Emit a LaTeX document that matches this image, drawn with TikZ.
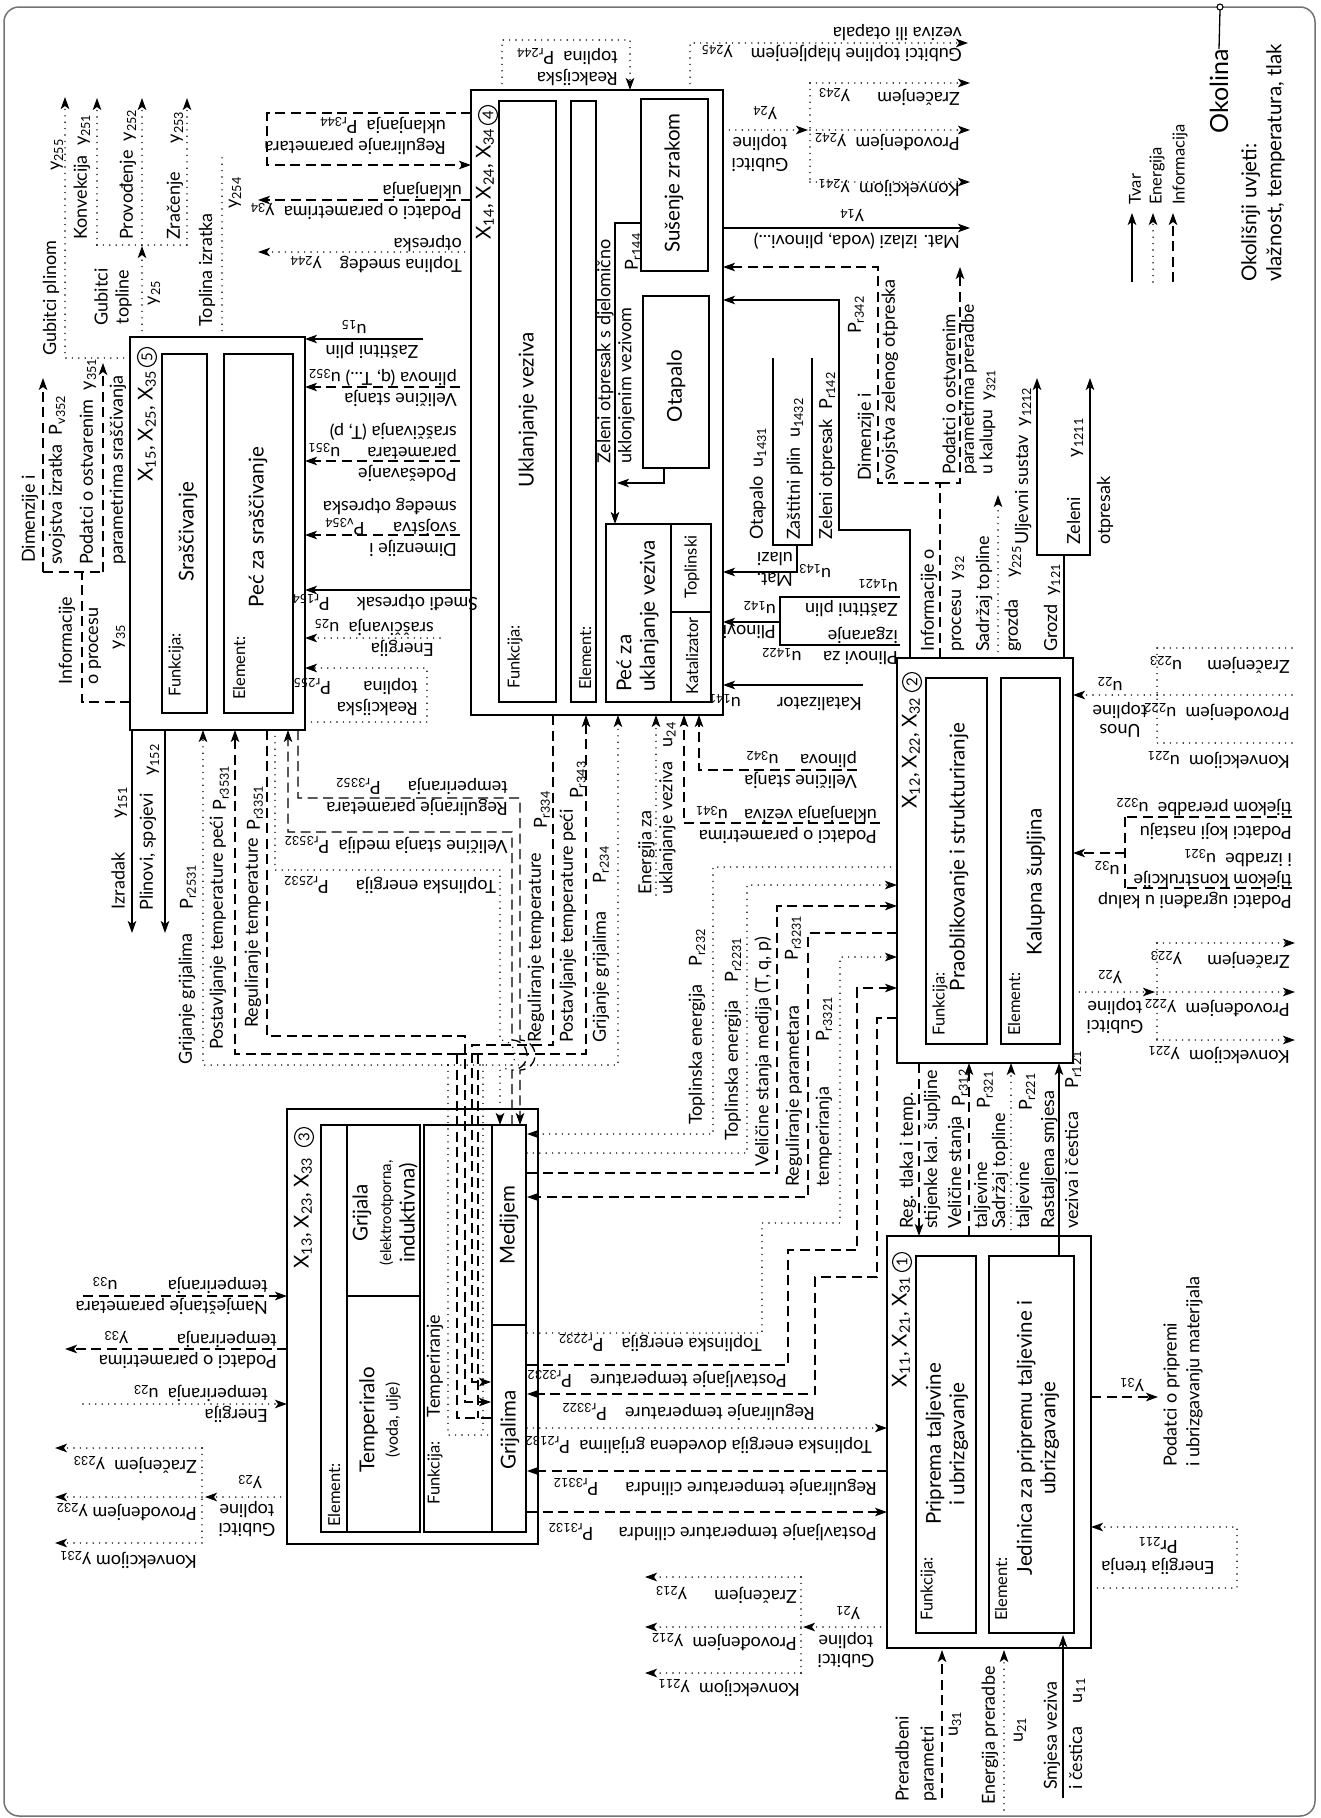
\documentclass[tikz,border=0pt]{standalone}
\usepackage{fontspec}
\setmainfont{Lato}
\usetikzlibrary{arrows.meta}

\newcommand{\sbs}[1]{\textsubscript{#1}}

\tikzset{
  okvir/.style={draw, line width=1.8pt, inner sep=0pt},
  unutar/.style={draw, line width=1.5pt, inner sep=0pt},
  tvar/.style={line width=1.4pt},
  energ/.style={line width=1.6pt, line cap=round, dash pattern=on 0pt off 6.4pt},
  info/.style={line width=1.3pt, dash pattern=on 10pt off 5.5pt},
  str/.style={-{Stealth[length=12pt, width=8.5pt, inset=3pt]}},
  lbl/.style={rotate=90, inner sep=0pt, font=\fontsize{18}{21}\selectfont},
  lblo/.style={rotate=180, inner sep=0pt, font=\fontsize{18}{21}\selectfont},
  txt/.style={rotate=90, inner sep=0pt, font=\fontsize{20.5}{23.5}\selectfont},
  mali/.style={rotate=90, inner sep=0pt, font=\fontsize{16.5}{19}\selectfont},
  krug/.style={draw, circle, line width=1.1pt, inner sep=0pt, minimum size=19pt,
    rotate=90, font=\fontsize{15}{15}\selectfont}
}

\begin{document}
\begin{tikzpicture}[x=1pt, y=-1pt]
  \useasboundingbox (0,0) rectangle (1321,1818);
  \draw[black!55, line width=1.5pt, rounded corners=15pt] (4,7) rectangle (1315,1816);

  % okolina i legenda
  \node[rotate=90, inner sep=0pt, font=\fontsize{25}{28}\selectfont, anchor=east] (okolina) at (1219,49) {Okolina};
  \draw[line width=1.3pt] (okolina.east) -- (1220,10);
  \draw[line width=1.1pt, fill=white] (1220,7) circle (3pt);
  \node[rotate=90, inner sep=0pt, font=\fontsize{20.5}{25}\selectfont, align=left, anchor=west] (uvjeti) at (1263,282) {Okolišnji uvjeti:\\vlažnost, temperatura, tlak};
  \draw[tvar, str] (1132,282) -- (1132,213);
  \draw[energ, str] (1153,282) -- (1153,213);
  \draw[info, str] (1173,282) -- (1173,213);
  \node[mali, anchor=west] (L-t) at (1135,205) {Tvar};
  \node[mali, anchor=west] (L-e) at (1157,205) {Energija};
  \node[mali, anchor=west] (L-i) at (1180,205) {Informacija};

  % 1
  \node[okvir, minimum width=204pt, minimum height=412pt] (B-1) at (989,1442) {};
  \node[unutar, minimum width=60pt, minimum height=377pt] (B-1f) at (946,1444.5) {};
  \node[unutar, minimum width=85pt, minimum height=377pt] (B-1e) at (1031.5,1444.5) {};
  \node[txt, anchor=east] (X-1) at (901,1276) {X\sbs{11}, X\sbs{21}, X\sbs{31}};
  \node[krug] (K-1) at (902,1262) {1};
  \node[mali] (F-1) at (928,1589) {Funkcija:};
  \node[txt, align=center] (T-1f) at (947,1444) {Priprema taljevine\\i ubrizgavanje};
  \node[mali] (E-1) at (1001,1589) {Element:};
  \node[txt, align=center] (T-1e) at (1038,1438) {Jedinica za pripremu taljevine i\\ubrizgavanje};

  % 2
  \node[okvir, minimum width=176pt, minimum height=405pt] (B-2) at (985,860.5) {};
  \node[unutar, minimum width=61pt, minimum height=366pt] (B-2f) at (956.5,861) {};
  \node[unutar, minimum width=59pt, minimum height=366pt] (B-2e) at (1030.5,861) {};
  \node[txt, anchor=east] (X-2) at (911,697) {X\sbs{12}, X\sbs{22}, X\sbs{32}};
  \node[krug] (K-2) at (912,682) {2};
  \node[mali] (F-2) at (940,1004) {Funkcija:};
  \node[txt] (T-2f) at (959,857) {Praoblikovanje i strukturiranje};
  \node[mali] (E-2) at (1014,1004) {Element:};
  \node[txt] (T-2e) at (1036,882) {Kalupna šupljina};

  % 3
  \node[okvir, minimum width=251pt, minimum height=435pt] (B-3) at (412.5,1326.5) {};
  \node[unutar, minimum width=99pt, minimum height=407pt] (B-3e) at (370.5,1328.5) {};
  \draw[line width=1.5pt] (347,1125) -- (347,1532);
  \draw[line width=1.5pt] (347,1296) -- (420,1296);
  \node[unutar, minimum width=102pt, minimum height=407pt] (B-3f) at (475,1328.5) {};
  \draw[line width=1.5pt] (492,1125) -- (492,1532);
  \draw[line width=1.5pt] (492,1325) -- (526,1325);
  \node[txt, anchor=east] (X-3) at (303,1157) {X\sbs{13}, X\sbs{23}, X\sbs{33}};
  \node[krug] (K-3) at (304,1137) {3};
  \node[mali] (E-3) at (334,1495) {Element:};
  \node[txt, align=center] (T-3g) at (385,1213) {Grijala\\\fontsize{15}{22}\selectfont(elektrootporna,\\induktivna)};
  \node[txt, align=center] (T-3t) at (380,1420) {Temperiralo\\\fontsize{16}{24}\selectfont(voda, ulje)};
  \node[mali] (F-3) at (435,1473) {Funkcija:};
  \node[lbl] (T-3f) at (435,1366) {Temperiranje};
  \node[txt] (T-3m) at (509,1225) {Medijem};
  \node[txt] (T-3gr) at (510,1430) {Grijalima};

  % 4
  \node[okvir, minimum width=252pt, minimum height=625pt] (B-4) at (597,402.5) {};
  \node[unutar, minimum width=57pt, minimum height=601pt] (B-4f) at (527.5,401.5) {};
  \node[unutar, minimum width=25pt, minimum height=601pt] (B-4e) at (583.5,401.5) {};
  \node[unutar, minimum width=105pt, minimum height=178pt] (B-4p) at (658.5,613) {};
  \draw[line width=1.5pt] (671,524) -- (671,702);
  \draw[line width=1.5pt] (671,612) -- (711,612);
  \node[unutar, minimum width=67pt, minimum height=172pt] (B-4s) at (674.5,185) {};
  \node[unutar, minimum width=66pt, minimum height=172pt] (B-4o) at (676,382) {};
  \node[txt, anchor=east] (X-4) at (485,128) {X\sbs{14}, X\sbs{24}, X\sbs{34}};
  \node[krug] (K-4) at (488,115) {4};
  \node[txt] (T-4f) at (528,410) {Uklanjanje veziva};
  \node[mali] (F-4) at (515,657) {Funkcija:};
  \node[mali] (E-4) at (585,658) {Element:};
  \node[txt, align=left, anchor=west] (T-4p) at (637.5,692) {Peć za\\uklanjanje veziva};
  \node[mali] (T-4t) at (692,567) {Toplinski};
  \node[mali] (T-4k) at (692,656) {Katalizator};
  \node[txt] (T-4s) at (674,183) {Sušenje zrakom};
  \node[txt] (T-4o) at (676,386) {Otapalo};
  \node[lbl, align=left, anchor=west] (T-4z) at (616,464) {Zeleni otpresak s djelomično\\uklonjenim vezivom};
  \node[lbl] (P-r144) at (633,252) {P\sbs{r144}};
  \draw[tvar, str] (641,223) -- (615,223) -- (615,524);
  \draw[tvar, str] (664,468) -- (664,483) -- (617,483);

  % 5
  \node[okvir, minimum width=175pt, minimum height=393pt] (B-5) at (217.5,533.5) {};
  \node[unutar, minimum width=45pt, minimum height=359pt] (B-5f) at (184.5,533.5) {};
  \node[unutar, minimum width=69pt, minimum height=359pt] (B-5e) at (258.5,533.5) {};
  \node[txt, anchor=east] (X-5) at (147,370) {X\sbs{15}, X\sbs{25}, X\sbs{35}};
  \node[krug] (K-5) at (147,357) {5};
  \node[mali] (F-5) at (176,665) {Funkcija:};
  \node[txt] (T-5f) at (188,532) {Sraščivanje};
  \node[mali] (E-5) at (239,668) {Element:};
  \node[txt] (T-5e) at (258,527) {Peć za sraščivanje};

  % gubitci iz 5
  \draw[energ, str] (130,358) -- (65,358) -- (65,97);
  \node[lbl] (L-gp) at (51,298) {Gubitci plinom};
  \node[lbl] (L-y255) at (57,155) {y\sbs{255}};
  \draw[energ, str] (142,337) -- (142,246);
  \draw[energ] (97,245) -- (187,245);
  \draw[energ, str] (97,245) -- (97,98);
  \draw[energ, str] (142,245) -- (142,98);
  \draw[energ, str] (187,245) -- (187,98);
  \node[lbl, align=center] (L-gt5) at (113,297) {Gubitci\\topline};
  \node[lbl] (L-y25) at (154,293) {y\sbs{25}};
  \node[lbl, anchor=west] (L-k251) at (82,240) {Konvekcija\ \ y\sbs{251}};
  \node[lbl, anchor=west] (L-p252) at (128,240) {Provođenje\ \ y\sbs{252}};
  \node[lbl, anchor=west] (L-z253) at (175,240) {Zračenje\hspace{1.6em}y\sbs{253}};
  \draw[energ] (222,337) -- (222,153);
  \node[lbl] (L-ti) at (207,270) {Toplina izratka};
  \node[lbl] (L-y254) at (235,193) {y\sbs{254}};

  % informacije iz 5
  \draw[info] (130,702) -- (82,702) -- (82,572);
  \draw[info] (43,572) -- (103,572);
  \draw[info, str] (43,572) -- (43,378);
  \draw[info, str] (103,572) -- (103,363);
  \node[lbl, anchor=west] (L-inf5) at (67,685) {Informacije};
  \node[lbl, anchor=west] (L-op5) at (95,685) {o procesu};
  \node[lbl] (L-y35) at (119,637) {y\sbs{35}};
  \node[lbl, anchor=west] (L-dim5) at (30,563) {Dimenzije i};
  \node[lbl, anchor=west] (L-svi) at (57,565) {svojstva izratka\ \ P\sbs{v352}};
  \node[lbl, anchor=west] (L-po5) at (88,565) {Podatci o ostvarenim\ \ y\sbs{351}};
  \node[lbl, anchor=west] (L-ps5) at (118,565) {parametrima sraščivanja};

  % izmedju 5 i 4
  \draw[info, str] (471,113) -- (267,113) -- (267,165) -- (471,165);
  \node[lblo, align=left, anchor=west] (L-r344) at (446,136) {Reguliranje parametara\\uklanjanja\ \ P\sbs{r344}};
  \draw[info, str] (471,200) -- (258,200);
  \node[lblo, align=left, anchor=west] (L-y34) at (462,201) {Podatci o parametrima\ \ y\sbs{34}\\uklanjanja};
  \draw[energ, str] (471,252) -- (258,252);
  \node[lblo, align=left, anchor=west] (L-y244) at (462,254) {Toplina smeđeg\quad y\sbs{244}\\otpreska};
  \draw[tvar, str] (423,339) -- (305,339);
  \node[lblo] (L-zp15) at (372,351) {Zaštitni plin};
  \node[lblo] (L-u15) at (354,327) {u\sbs{15}};
  \draw[info, str] (460,387) -- (305,387);
  \node[lblo, align=left, anchor=west] (L-u352) at (457,388) {Veličine stanja\\plinova (q, T...)\ u\sbs{352}};
  \draw[info, str] (460,461) -- (305,461);
  \node[lblo, align=left, anchor=west] (L-u351) at (457,452) {Podešavanje\\parametara\hspace{1.5em}u\sbs{351}\\sraščivanja (T, p)};
  \draw[info, str] (460,535) -- (305,535);
  \node[lblo, align=left, anchor=west] (L-v354) at (457,527) {Dimenzije i\\svojstva\hspace{1.6em}P\sbs{v354}\\smeđeg otpreska};
  \draw[tvar, str] (471,590) -- (305,590);
  \node[lblo] (L-r154) at (385,603) {Smeđi otpresak\hspace{1.5em}P\sbs{r154}};
  \draw[energ, str] (440,638) -- (305,638);
  \node[lblo, align=left, anchor=west] (L-u25) at (434,638) {Energija\\sraščivanja\ \ u\sbs{25}};
  \draw[energ, str] (305,722) -- (427,722) -- (427,668) -- (305,668);
  \node[lblo, align=left, anchor=west] (L-r255) at (418,697) {Reakcijska\\toplina\hspace{1.8em}P\sbs{r255}};

  % izlazi 5 prema dolje
  \draw[tvar, str] (132,730) -- (132,933);
  \node[lbl] (L-izr) at (118,881) {Izradak};
  \node[lbl] (L-y151) at (121,803) {y\sbs{151}};
  \draw[tvar, str] (165,730) -- (165,933);
  \node[lbl] (L-pls) at (148,852) {Plinovi, spojevi};
  \node[lbl] (L-y152) at (153,760) {y\sbs{152}};

  % grijanje, postavljanje, reguliranje (3 - 4 - 5)
  \draw[energ, str] (448,1065) -- (203,1065) -- (203,730);
  \draw[energ, str] (448,1065) -- (618,1065) -- (618,715);
  \draw[energ] (448,1065) -- (448,1435) -- (491,1435);
  \draw[energ] (483,1065) -- (483,1435);
  \node[lbl, anchor=west] (L-gg5) at (187,1065) {Grijanje grijalima};
  \node[lbl] (L-r2531) at (188,887) {P\sbs{r2531}};
  \node[lbl, anchor=west] (L-gg4) at (601,1043) {Grijanje grijalima};
  \node[lbl] (L-r234) at (601,865) {P\sbs{r234}};
  \draw[info, str] (457,1054) -- (235,1054) -- (235,730);
  \draw[info, str] (457,1054) -- (586,1054) -- (586,715);
  \draw[info] (457,1054) -- (457,1418) -- (491,1418);
  \draw[info] (478,1054) -- (478,1418);
  \node[lbl, anchor=west] (L-pt5) at (218,1050) {Postavljanje temperature peći};
  \node[lbl] (L-r3531) at (221,788) {P\sbs{r3531}};
  \node[lbl, anchor=west] (L-pt4) at (568,1043) {Postavljanje temperature peći};
  \node[lbl] (L-r343) at (578,780) {P\sbs{r343}};
  \draw[info, str] (267,730) -- (267,1036) -- (465,1036) -- (465,1402) -- (491,1402);
  \node[lbl, anchor=west] (L-rt5) at (253,1028) {Reguliranje temperature};
  \node[lbl] (L-r3351) at (255,808) {P\sbs{r3351}};
  \draw[info, str] (553,715) -- (553,1045) -- (472,1045) -- (472,1382) -- (491,1382);
  \node[lbl, anchor=west] (L-rt4) at (536,1043) {Reguliranje temperature};
  \node[lbl] (L-r334) at (542,810) {P\sbs{r334}};

  % 5 - medijem (s preskocima)
  \draw[info, str] (298,730) -- (298,798) -- (520,798) -- (520,1040)
    arc[start angle=-90, end angle=90, radius=15] -- (520,1125);
  \node[lblo, align=left, anchor=west] (L-r3352) at (508,797) {Reguliranje parametara\\temperiranja\hspace{1.5em}P\sbs{r3352}};
  \draw[info, str] (512,1125) -- (512,1070)
    arc[start angle=90, end angle=-90, radius=15] -- (512,832) -- (288,832) -- (288,730);
  \node[lblo] (L-r3532) at (396,845) {Veličine stanja medija\ \ P\sbs{r3532}};
  \draw[energ, str] (275,730) -- (275,870) -- (500,870) -- (500,1040)
    arc[start angle=-90, end angle=90, radius=15] -- (500,1125);
  \node[lblo] (L-r2532) at (390,885) {Toplinska energija\hspace{1.5em}P\sbs{r2532}};

  % ulazi u 4 odozdo
  \draw[energ, str] (656,895) -- (656,715);
  \node[lbl, align=left, anchor=west] (L-u24) at (657,895) {Energija za\\uklanjanje veziva\hspace{0.8em}u\sbs{24}};
  \draw[info, str] (880,823) -- (684,823) -- (684,715);
  \node[lblo, align=left, anchor=west] (L-u341) at (877,825) {Podatci o parametrima\\uklanjanja veziva\hspace{0.9em}u\sbs{341}};
  \draw[info, str] (857,770) -- (699,770) -- (699,715);
  \node[lblo, align=left, anchor=west] (L-u342) at (857,770) {Veličine stanja\\plinova\hspace{1.2em}u\sbs{342}};

  % 4 gore
  \draw[energ, str] (502,90) -- (502,40) -- (630,40) -- (630,90);
  \node[lblo, align=left, anchor=west] (L-r244) at (618,67) {Reakcijska\\toplina\ \ P\sbs{r244}};
  \draw[energ, str] (690,90) -- (690,43) -- (968,43);
  \node[lblo, align=left, anchor=west] (L-y245) at (962,43) {Gubitci topline hlapljenjem\hspace{1em}y\sbs{245}\\veziva ili otapala};

  % 4 desno
  \draw[energ, str] (723,130) -- (808,130);
  \draw[energ] (810,83) -- (810,182);
  \draw[energ, str] (810,83) -- (970,83);
  \draw[energ, str] (810,130) -- (970,130);
  \draw[energ, str] (810,182) -- (970,182);
  \node[lblo, align=center] (L-gt4) at (760,153) {Gubitci\\topline};
  \node[lblo] (L-y24) at (765,113) {y\sbs{24}};
  \node[lblo, anchor=west] (L-y243) at (960,97) {Zračenjem\hspace{1.5em}y\sbs{243}};
  \node[lblo, anchor=west] (L-y242) at (960,142) {Provođenjem\ \ y\sbs{242}};
  \node[lblo, anchor=west] (L-y241) at (960,188) {Konvekcijom\ \ y\sbs{241}};
  \draw[tvar, str] (723,228) -- (970,228);
  \node[lblo, anchor=west] (L-mi) at (960,241) {Mat. izlazi (voda, plinovi...)};
  \node[lblo] (L-y14) at (852,216) {y\sbs{14}};
  \draw[info, str] (940,658) -- (940,483) -- (878,483) -- (878,267) -- (723,267);
  \draw[info, str] (940,483) -- (960,483) -- (960,267);
  \node[lbl, anchor=west] (L-dz) at (866,481) {Dimenzije i};
  \node[lbl, anchor=west] (L-sz) at (890,481) {svojstva zelenog otpreska};
  \node[lbl] (L-r342) at (856,315) {P\sbs{r342}};
  \draw[tvar, str] (910,658) -- (910,530) -- (839,530) -- (839,300) -- (723,300);
  \node[lbl, anchor=west] (L-r142) at (827,540) {Zeleni otpresak\ \ P\sbs{r142}};
  \draw[tvar] (773,358) -- (773,545) -- (812,545) -- (812,358);
  \draw[tvar, str] (797,545) -- (797,572) -- (723,572);
  \node[lbl, anchor=west] (L-u1431) at (758,540) {Otapalo\ \ u\sbs{1431}};
  \node[lbl, anchor=west] (L-u1432) at (795,540) {Zaštitni plin\ \ u\sbs{1432}};
  \node[lblo, align=left, anchor=west] (L-mu) at (793,569) {Mat.\\ulazi};
  \node[lblo] (L-u143) at (815,571) {u\sbs{143}};
  \draw[tvar] (900,597) -- (780,597) -- (780,645) -- (900,645);
  \draw[tvar, str] (780,622) -- (723,622);
  \node[lblo, align=left, anchor=west] (L-u1421) at (898,598) {Zaštitni plin\\u\sbs{1421}};
  \node[lblo, align=left, anchor=west] (L-u1422) at (898,646) {Plinovi za\hspace{1.2em}u\sbs{1422}\\izgaranje};
  \node[lblo, align=left, anchor=west] (L-u142) at (776,620) {Plinovi\\u\sbs{142}};
  \draw[tvar, str] (863,685) -- (723,685);
  \node[lblo, anchor=west] (L-u141) at (862,703) {Katalizator\hspace{2em}u\sbs{141}};

  % 2 gore
  \node[lbl, anchor=west] (L-inf2) at (929,652) {Informacije o};
  \node[lbl, anchor=west] (L-pr2) at (958,652) {procesu\ \ y\sbs{32}};
  \node[lbl, align=left, anchor=west, font=\fontsize{17.5}{18.5}\selectfont] (L-po2) at (969,475) {Podatci o ostvarenim\\parametrima preradbe\\u kalupu\ \ y\sbs{321}};
  \draw[energ, str] (998,658) -- (998,495);
  \node[lbl, anchor=west] (L-st2) at (984,652) {Sadržaj topline};
  \node[lbl, anchor=west] (L-y225) at (1013,652) {grozda\hspace{1.2em}y\sbs{225}};
  \draw[tvar] (1064,658) -- (1064,555);
  \draw[tvar, str] (1064,555) -- (1037,555) -- (1037,378);
  \draw[tvar, str] (1064,555) -- (1090,555) -- (1090,378);
  \node[lbl, anchor=west] (L-y121) at (1052,652) {Grozd\ \ y\sbs{121}};
  \node[lbl, anchor=west] (L-y1212) at (1023,545) {Uljevni sustav\ \ y\sbs{1212}};
  \node[lbl, anchor=west] (L-zel) at (1075,545) {Zeleni\hspace{2.2em}y\sbs{1211}};
  \node[lbl, anchor=west] (L-otp) at (1105,545) {otpresak};

  % 2 desno
  \draw[energ, str] (1157,695) -- (1073,695);
  \draw[energ] (1157,648) -- (1157,743);
  \draw[energ] (1292,648) -- (1157,648);
  \draw[energ] (1292,695) -- (1157,695);
  \draw[energ] (1292,743) -- (1157,743);
  \node[lblo, anchor=west] (L-u223) at (1290,665) {Zračenjem\hspace{1.4em}u\sbs{223}};
  \node[lblo, anchor=west] (L-u222) at (1290,712) {Provođenjem\ \ u\sbs{222}};
  \node[lblo, anchor=west] (L-u221) at (1290,760) {Konvekcijom\ \ u\sbs{221}};
  \node[lblo, align=center, font=\fontsize{18}{19}\selectfont] (L-ut) at (1120,720) {Unos\\topline};
  \node[lblo] (L-u22) at (1110,684) {u\sbs{22}};
  \draw[info, str] (1125,853) -- (1073,853);
  \draw[info] (1125,817) -- (1125,888);
  \draw[info] (1292,817) -- (1125,817);
  \draw[info] (1292,888) -- (1125,888);
  \node[lblo, align=left, anchor=west, font=\fontsize{18}{24}\selectfont] (L-u322) at (1292,819) {Podatci koji nastaju\\tijekom preradbe\ \ u\sbs{322}};
  \node[lblo, align=left, anchor=west] (L-u321) at (1292,879) {Podatci ugrađeni u kalup\\tijekom konstrukcije\\i izradbe\ \ u\sbs{321}};
  \node[lblo] (L-u32) at (1107,868) {u\sbs{32}};
  \draw[energ, str] (1073,992) -- (1155,992);
  \draw[energ] (1157,943) -- (1157,1040);
  \draw[energ, str] (1157,943) -- (1295,943);
  \draw[energ, str] (1157,992) -- (1295,992);
  \draw[energ, str] (1157,1040) -- (1295,1040);
  \node[lblo, anchor=west] (L-y223) at (1290,960) {Zračenjem\hspace{1.4em}y\sbs{223}};
  \node[lblo, anchor=west] (L-y222) at (1290,1008) {Provođenjem\ \ y\sbs{222}};
  \node[lblo, anchor=west] (L-y221) at (1290,1055) {Konvekcijom\ \ y\sbs{221}};
  \node[lblo, align=center, font=\fontsize{18}{19}\selectfont] (L-gt2) at (1115,1016) {Gubitci\\topline};
  \node[lblo] (L-y22) at (1110,977) {y\sbs{22}};

  % 2 - 1
  \draw[info, str] (919,1063) -- (919,1236);
  \node[lbl, anchor=west] (L-rt) at (908,1229) {Reg. tlaka i temp.};
  \node[lbl, anchor=west] (L-sk) at (932,1229) {stijenke kal. šupljine};
  \node[lbl] (L-r312) at (960,1088) {P\sbs{r312}};
  \draw[info, str] (969,1236) -- (969,1063);
  \node[lbl, anchor=west] (L-vst) at (956,1229) {Veličine stanja};
  \node[lbl, anchor=west] (L-tlj1) at (982,1229) {taljevine};
  \node[lbl] (L-r321) at (985,1090) {P\sbs{r321}};
  \draw[energ, str] (1011,1236) -- (1011,1063);
  \node[lbl, anchor=west] (L-sdt) at (1000,1229) {Sadržaj topline};
  \node[lbl, anchor=west] (L-tlj2) at (1024,1229) {taljevine};
  \node[lbl] (L-r221) at (1027,1092) {P\sbs{r221}};
  \draw[tvar, str] (1059,1256) -- (1059,1063);
  \node[lbl, anchor=west] (L-rs) at (1049,1229) {Rastaljena smjesa};
  \node[lbl, anchor=west] (L-vc) at (1073,1229) {veziva i čestica\hspace{1.3em}P\sbs{r121}};

  % 1 ulazi i izlazi
  \draw[info, str] (942,1798) -- (942,1650);
  \node[lbl, align=left, anchor=west, font=\fontsize{18}{25}\selectfont] (L-prp) at (916,1802) {Preradbeni\\parametri};
  \node[lbl] (L-u31) at (955,1724) {u\sbs{31}};
  \draw[energ, str] (1004,1810) -- (1004,1650);
  \node[lbl, anchor=west] (L-ep) at (990,1805) {Energija preradbe};
  \node[lbl] (L-u21) at (1020,1730) {u\sbs{21}};
  \draw[tvar, str] (1063,1798) -- (1063,1635);
  \node[lbl, anchor=west] (L-sv) at (1052,1790) {Smjesa veziva};
  \node[lbl, anchor=west] (L-ic) at (1077,1790) {i čestica\hspace{1.3em}u\sbs{11}};
  \draw[info, str] (1091,1397) -- (1158,1397);
  \node[lblo] (L-y31) at (1132,1385) {y\sbs{31}};
  \node[lbl, align=left, anchor=west, font=\fontsize{18}{23}\selectfont] (L-pp) at (1183,1467) {Podatci o pripremi\\i ubrizgavanju materijala};
  \draw[energ, str] (1091,1588) -- (1237,1588) -- (1237,1527) -- (1091,1527);
  \node[lblo, align=center] (L-tr) at (1158,1556) {Energija trenja\\Pr\sbs{211}};
  \draw[energ, str] (887,1627) -- (803,1627);
  \draw[energ] (801,1577) -- (801,1673);
  \draw[energ, str] (801,1577) -- (645,1577);
  \draw[energ, str] (801,1627) -- (645,1627);
  \draw[energ, str] (801,1673) -- (645,1673);
  \node[lblo, anchor=west] (L-y213) at (797,1595) {Zračenjem\hspace{1.5em}y\sbs{213}};
  \node[lblo, anchor=west] (L-y212) at (797,1642) {Provođenjem\ \ y\sbs{212}};
  \node[lblo, anchor=west] (L-y211) at (800,1688) {Konvekcijom\ \ y\sbs{211}};
  \node[lblo, align=center, font=\fontsize{18}{19}\selectfont] (L-gt1) at (846,1650) {Gubitci\\topline};
  \node[lblo] (L-y21) at (848,1613) {y\sbs{21}};

  % 3 - 1
  \draw[energ, str] (527,1428) -- (887,1428);
  \node[lblo, anchor=west] (L-r2132) at (872,1445) {Toplinska energija dovedena grijalima\ \ P\sbs{r2132}};
  \draw[info, str] (887,1471) -- (527,1471);
  \node[lblo, anchor=west] (L-r3312) at (877,1487) {Reguliranje temperature cilindra\hspace{1.5em}P\sbs{r3312}};
  \draw[info, str] (527,1512) -- (887,1512);
  \node[lblo, anchor=west] (L-r3132) at (877,1532) {Postavljanje temperature cilindra\hspace{1.4em}P\sbs{r3132}};

  % 2 - 3
  \draw[energ, str] (897,867) -- (713,867) -- (713,1134) -- (527,1134);
  \draw[energ, str] (527,1153) -- (747,1153) -- (747,885) -- (897,885);
  \draw[info, str] (527,1173) -- (777,1173) -- (777,906) -- (897,906);
  \draw[info, str] (897,933) -- (808,933) -- (808,1197) -- (527,1197);
  \draw[energ, str] (527,1333) -- (762,1333) -- (762,1223) -- (840,1223) -- (840,957) -- (897,957);
  \draw[info, str] (527,1365) -- (788,1365) -- (788,1250) -- (857,1250) -- (857,988) -- (897,988);
  \draw[info, str] (897,1018) -- (877,1018) -- (877,1277) -- (815,1277) -- (815,1394) -- (527,1394);
  \node[lbl, anchor=west] (L-r232) at (697,1125) {Toplinska energija\hspace{1em}P\sbs{r232}};
  \node[lbl, anchor=west] (L-r2231) at (733,1141) {Toplinska energija\hspace{1em}P\sbs{r2231}};
  \node[lbl, anchor=west] (L-r3231v) at (763,1167) {Veličine stanja medija (T, q, p)};
  \node[lbl] (L-r3231) at (793,938) {P\sbs{r3231}};
  \node[lbl, anchor=west] (L-rpt) at (794,1187) {Reguliranje parametara};
  \node[lbl, anchor=west] (L-r3321) at (824,1187) {temperiranja\hspace{2.5em}P\sbs{r3321}};
  \node[lblo, anchor=west] (L-r2232) at (762,1343) {Toplinska energija\hspace{1em}P\sbs{r2232}};
  \node[lblo, anchor=west] (L-r3232) at (787,1379) {Postavljanje temperature\hspace{1em}P\sbs{r3232}};
  \node[lblo, anchor=west] (L-r3322) at (815,1412) {Reguliranje temperature\hspace{1em}P\sbs{r3322}};

  % 3 lijevo
  \draw[info, str] (83,1296) -- (287,1296);
  \node[lblo, align=left, anchor=west] (L-u33) at (268,1296) {Namještanje parametara\\temperiranja\hspace{2.8em}u\sbs{33}};
  \draw[info, str] (287,1349) -- (65,1349);
  \node[lblo, align=left, anchor=west] (L-y33) at (277,1350) {Podatci o parametrima\\temperiranja\hspace{2.7em}y\sbs{33}};
  \draw[energ, str] (83,1404) -- (287,1404);
  \node[lblo, align=left, anchor=west] (L-u23) at (268,1404) {Energija\\temperiranja\ \ u\sbs{23}};
  \draw[energ, str] (287,1497) -- (205,1497);
  \draw[energ] (202,1448) -- (202,1543);
  \draw[energ, str] (202,1448) -- (55,1448);
  \draw[energ, str] (202,1497) -- (55,1497);
  \draw[energ, str] (202,1543) -- (55,1543);
  \node[lblo, anchor=west] (L-y233) at (197,1465) {Zračenjem\ \ y\sbs{233}};
  \node[lblo, anchor=west] (L-y232) at (197,1512) {Provođenjem\ y\sbs{232}};
  \node[lblo, anchor=west] (L-y231) at (197,1560) {Konvekcijom\ y\sbs{231}};
  \node[lblo, align=center, font=\fontsize{18}{19}\selectfont] (L-gt3) at (247,1519) {Gubitci\\topline};
  \node[lblo] (L-y23) at (250,1482) {y\sbs{23}};
\end{tikzpicture}
\end{document}
